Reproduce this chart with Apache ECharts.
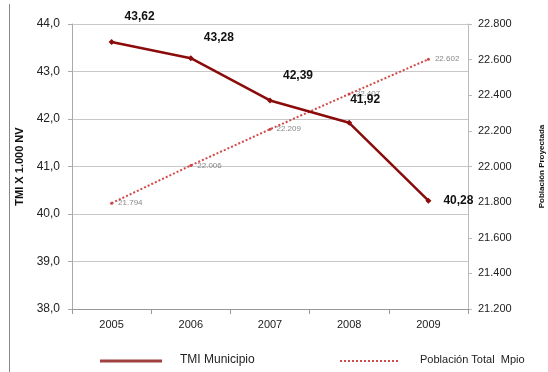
<!DOCTYPE html>
<html><head><meta charset="utf-8">
<script src="https://cdn.jsdelivr.net/npm/echarts@6/dist/echarts.min.js"></script>
<style>html,body{margin:0;padding:0;background:#fff}#c{width:548px;height:372px}</style>
</head><body><div id="c"></div>
<script>
const years = ['2005','2006','2007','2008','2009'];
const tmi = [43.62, 43.28, 42.39, 41.92, 40.28];
const poblacion = [21794, 22006, 22209, 22407, 22602];
const tmiName = 'TMI Municipio';
const pobName = 'Población Total  Mpio';

const fmtComma = v => v.toFixed(1).replace('.', ',');
const fmtThousands = v => String(v).replace(/\B(?=(\d{3})+(?!\d))/g, '.');

const tmiLabelOffsets = [[28,-4],[28,0],[28,-4],[16,-2],[0,0]];
const chart = echarts.init(document.getElementById('c'));
chart.setOption({
  animation: false,
  textStyle: {fontFamily: 'Liberation Sans, Arial, sans-serif'},
  grid: {left: 72, right: 80, top: 24, bottom: 63, outerBoundsMode: 'none', containLabel: false},
  legend: {show: false},
  xAxis: {
    type: 'category', data: years, boundaryGap: true,
    axisLine: {lineStyle: {color: '#999'}},
    axisTick: {show: true, length: 5, lineStyle: {color: '#999'}},
    axisLabel: {color: '#222', fontSize: 11, margin: 10}
  },
  yAxis: [{
    type: 'value', min: 38, max: 44, interval: 1,
    name: 'TMI X 1.000 NV', nameLocation: 'middle', nameGap: 38,
    nameTextStyle: {fontWeight: 'bold', fontSize: 11, color: '#111'},
    axisLine: {show: true, lineStyle: {color: '#aaa'}},
    axisTick: {show: true, length: 4, lineStyle: {color: '#aaa'}},
    axisLabel: {color: '#222', fontSize: 12, formatter: fmtComma, margin: 12},
    splitLine: {lineStyle: {color: '#c8c8c8'}}
  }, {
    type: 'value', min: 21200, max: 22800, interval: 200,
    name: 'Población Proyectada', nameLocation: 'middle', nameGap: 70,
    nameTextStyle: {fontWeight: 'bold', fontSize: 8, color: '#111'},
    axisLine: {show: true, lineStyle: {color: '#bbb'}},
    axisTick: {show: true, length: 4, lineStyle: {color: '#bbb'}},
    axisLabel: {color: '#222', fontSize: 11, formatter: fmtThousands, margin: 10},
    splitLine: {show: false}
  }],
  series: [{
    name: pobName, type: 'line', yAxisIndex: 1, data: poblacion,
    symbol: 'circle', symbolSize: 3, itemStyle: {color: '#cc4444'},
    lineStyle: {color: '#d04848', width: 2, type: [2, 2]},
    label: {show: true, position: 'right', color: '#888', fontSize: 8,
      formatter: p => fmtThousands(p.value)}
  }, {
    name: tmiName, type: 'line', yAxisIndex: 0,
    data: tmi.map((v, i) => ({value: v, label: i === 4 ? {position: 'right', offset: [0, 0]} : {position: 'top', offset: tmiLabelOffsets[i]}})),
    symbol: 'diamond', symbolSize: 6, itemStyle: {color: '#8b0a0a'},
    lineStyle: {color: '#8b0a0a', width: 2.5},
    label: {show: true, fontWeight: 'bold', fontSize: 12, color: '#111', distance: 12,
      formatter: p => p.value.toFixed(2).replace('.', ',')}
  }],
  graphic: [
    {type: 'line', shape: {x1: 9.5, y1: 4, x2: 9.5, y2: 372}, style: {stroke: '#888', lineWidth: 1}},
    {type: 'line', shape: {x1: 100, y1: 361, x2: 162, y2: 361}, style: {stroke: '#a04040', lineWidth: 3}},
    {type: 'text', left: 180, top: 354, style: {text: tmiName, fontSize: 12, fill: '#222', fontFamily: 'Liberation Sans, Arial, sans-serif'}},
    {type: 'line', shape: {x1: 340, y1: 361, x2: 400, y2: 361}, style: {stroke: '#d04848', lineWidth: 2, lineDash: [2, 2]}},
    {type: 'text', left: 420, top: 354, style: {text: pobName, fontSize: 11, fill: '#222', fontFamily: 'Liberation Sans, Arial, sans-serif'}}
  ]
});
</script></body></html>
